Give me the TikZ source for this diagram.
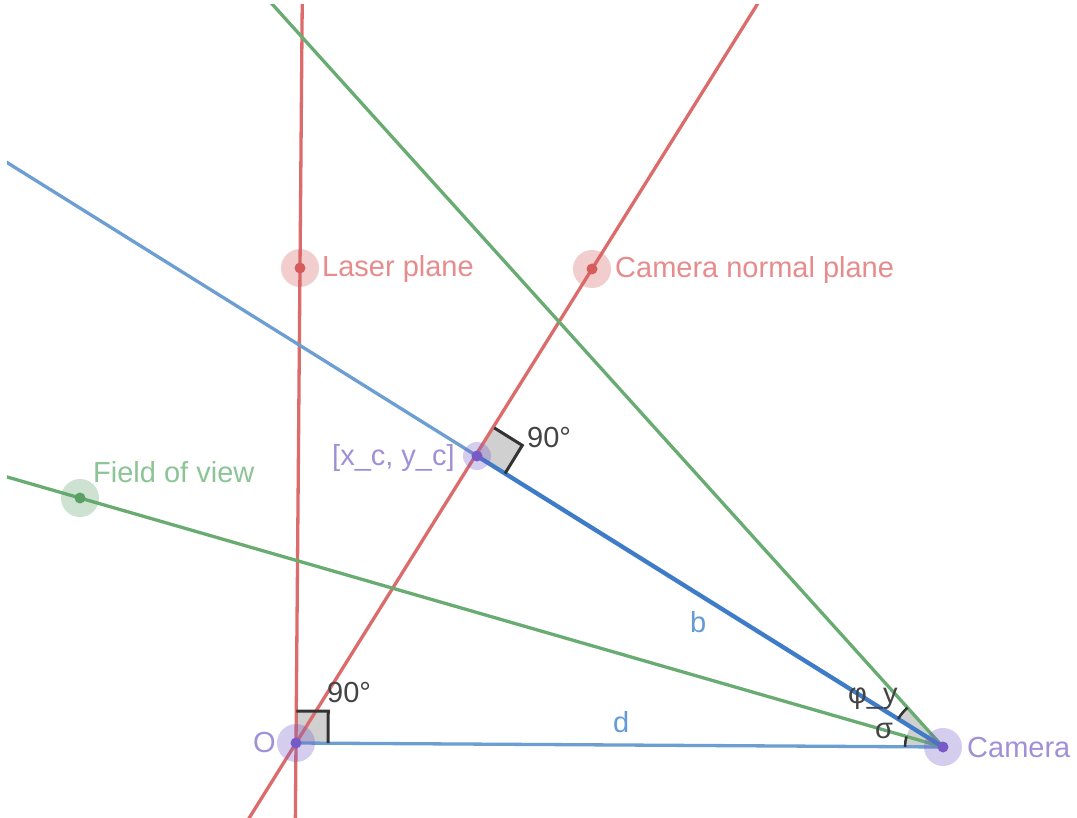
\documentclass[tikz,border=0pt]{standalone}
\usepackage{fontspec}
\setmainfont{Liberation Sans}
\usetikzlibrary{calc}
\definecolor{redline}{RGB}{220,108,108}
\definecolor{redtext}{RGB}{230,140,140}
\definecolor{reddot}{RGB}{214,92,92}
\definecolor{greenline}{RGB}{104,172,114}
\definecolor{greentext}{RGB}{140,196,150}
\definecolor{greendot}{RGB}{90,160,100}
\definecolor{blueline}{RGB}{108,158,210}
\definecolor{bluedark}{RGB}{62,124,200}
\definecolor{bluetext}{RGB}{100,155,215}
\definecolor{purpledot}{RGB}{118,90,200}
\definecolor{purpletext}{RGB}{160,145,215}
\definecolor{darktext}{RGB}{68,68,68}
\definecolor{markline}{RGB}{51,51,51}
\definecolor{markfill}{RGB}{208,208,208}
\begin{document}
\begin{tikzpicture}[x=1pt,y=-1pt,
  lbl/.style={inner sep=0pt,anchor=base west,font=\fontsize{29}{34}\selectfont},
  redln/.style={draw=redline,line width=3.3pt},
  greenln/.style={draw=greenline,line width=3.3pt},
  blueln/.style={draw=blueline,line width=3.3pt},
  bseg/.style={draw=bluedark,line width=4.3pt},
  rafill/.style={fill=markfill},
  raline/.style={draw=markline,line width=3pt,line join=miter},
  arcline/.style={draw=markline,line width=2.5pt},
  halo/.style={opacity=0.3}]
\useasboundingbox (0,0) rectangle (1077,818);
\fill[white] (0,0) rectangle (1077,818);
% key points
\coordinate (O) at (296,743);
\coordinate (Cam) at (943,747);
\coordinate (XC) at (477,456);
\coordinate (Lp) at (300,268);
\coordinate (CN) at (592,269);
\coordinate (FV) at (80,498);
\coordinate (G2) at (273,5);
% line ends
\coordinate (Lbot) at ($(O)!-0.2!(Lp)$);
\coordinate (Ltop) at ($(O)!1.7!(Lp)$);
\coordinate (Nbot) at ($(O)!-0.3!(CN)$);
\coordinate (Ntop) at ($(O)!1.7!(CN)$);
\coordinate (Bfar) at ($(Cam)!2.2!(XC)$);
\coordinate (Ffar) at ($(Cam)!1.2!(FV)$);
\coordinate (Gfar) at ($(Cam)!1.2!(G2)$);
% right angle marks
\coordinate (oa) at ($(O)!32pt!(Cam)$);
\coordinate (ob) at ($(O)!32pt!(Lp)$);
\coordinate (oc) at ($(oa)+(ob)-(O)$);
\coordinate (xa) at ($(XC)!33pt!(Cam)$);
\coordinate (xb) at ($(XC)!33pt!(CN)$);
\coordinate (xcc) at ($(xa)+(xb)-(XC)$);
\fill[rafill] (O) -- (oa) -- (oc) -- (ob) -- cycle;
\fill[rafill] (XC) -- (xa) -- (xcc) -- (xb) -- cycle;
% angle sectors at camera
\fill[rafill] (Cam) -- ++(180.35:38) arc[start angle=180.35,end angle=211.98,radius=38] -- cycle;
\fill[rafill] (Cam) -- ++(211.98:53) arc[start angle=211.98,end angle=227.92,radius=53] -- cycle;
% lines
\begin{scope}
\clip (7,5) rectangle (1077,818);
\draw[redln] (Lbot) -- (Ltop);
\draw[redln] (Nbot) -- (Ntop);
\draw[blueln] (XC) -- (Bfar);
\draw[blueln] (O) -- (Cam);
\draw[greenln] (Cam) -- (Ffar);
\draw[greenln] (Cam) -- (Gfar);
\draw[bseg] (XC) -- (Cam);
\end{scope}
% marks
\draw[raline] (oa) -- (oc) -- (ob);
\draw[raline] (xa) -- (xcc) -- (xb);
\draw[arcline] ($(Cam)+(180.35:38)$) arc[start angle=180.35,end angle=196.09,radius=38];
\draw[arcline] ($(Cam)+(211.98:53)$) arc[start angle=211.98,end angle=227.92,radius=53];
% points
\fill[reddot,halo] (Lp) circle (19);
\fill[reddot] (Lp) circle (5.5);
\fill[reddot,halo] (CN) circle (19);
\fill[reddot] (CN) circle (5.5);
\fill[greendot,halo] (FV) circle (19);
\fill[greendot] (FV) circle (5.5);
\fill[purpledot,halo] (XC) circle (14);
\fill[purpledot] (XC) circle (5.5);
\fill[purpledot,halo] (O) circle (19);
\fill[purpledot] (O) circle (5.5);
\fill[purpledot,halo] (Cam) circle (19);
\fill[purpledot] (Cam) circle (5.5);
% labels
\node[lbl,text=redtext] (tLp) at (322,277) {Laser plane};
\node[lbl,text=redtext] (tCN) at (615,278) {Camera normal plane};
\node[lbl,text=greentext] (tFV) at (93,482) {Field of view};
\node[lbl,text=purpletext] (tXC) at (332,465) {[x\_c, y\_c]};
\node[lbl,text=purpletext] (tO) at (253,752) {O};
\node[lbl,text=purpletext] (tCam) at (967,757) {Camera};
\node[lbl,text=bluetext] (tb) at (690,632) {b};
\node[lbl,text=bluetext] (td) at (613,732) {d};
\node[lbl,text=darktext] (t90a) at (327,702) {90°};
\node[lbl,text=darktext] (t90b) at (527,447) {90°};
\node[lbl,text=darktext] (tphi) at (848,703) {φ\_y};
\node[lbl,text=darktext] (tsig) at (875,738) {σ};
\end{tikzpicture}
\end{document}
